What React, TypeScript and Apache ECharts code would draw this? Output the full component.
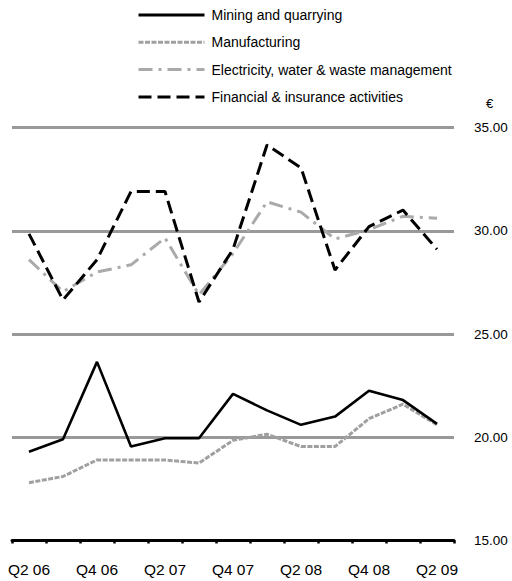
import React, { useEffect, useRef } from "react";
import * as echarts from "echarts";

const categories = ["Q2 06", "Q3 06", "Q4 06", "Q1 07", "Q2 07", "Q3 07", "Q4 07", "Q1 08", "Q2 08", "Q3 08", "Q4 08", "Q1 09", "Q2 09"];
const mining = [19.3, 19.9, 23.65, 19.55, 19.95, 19.95, 22.1, 21.3, 20.6, 21.0, 22.25, 21.8, 20.65];
const manufacturing = [17.8, 18.1, 18.9, 18.9, 18.9, 18.75, 19.85, 20.15, 19.55, 19.55, 20.9, 21.6, 20.6];
const electricity = [28.6, 27.05, 28.0, 28.35, 29.65, 26.9, 28.9, 31.4, 30.9, 29.6, 30.05, 30.7, 30.6];
const financial = [29.85, 26.65, 28.6, 31.9, 31.9, 26.55, 29.1, 34.15, 33.05, 28.1, 30.2, 31.0, 29.1];
const yTicks = { min: 15, max: 35, interval: 5 };

const FONT = "Liberation Sans, Arial, sans-serif";

export default function App() {
  const ref = useRef<HTMLDivElement>(null);
  useEffect(() => {
    if (!ref.current) return;
    const chart = echarts.init(ref.current, null, { renderer: "svg" });
    chart.setOption({
      animation: false,
      textStyle: { fontFamily: FONT },
      legend: {
        orient: "vertical",
        left: 137,
        top: 8,
        padding: 0,
        itemWidth: 66,
        itemHeight: 14,
        itemGap: 13.3,
        itemStyle: { opacity: 0 },
        lineStyle: { width: 3 },
        textStyle: { fontFamily: FONT, fontSize: 14, color: "#000", padding: [0, 0, 0, 2] },
        data: ["Mining and quarrying", "Manufacturing", "Electricity, water & waste management", "Financial & insurance activities"],
      },
      grid: { left: 12, right: 58, top: 127.5, bottom: 40.5, containLabel: false },
      xAxis: {
        type: "category",
        data: categories,
        boundaryGap: true,
        axisLine: { lineStyle: { color: "#000", width: 3 } },
        axisTick: { show: true, length: 3, lineStyle: { color: "#000", width: 2.5 }, interval: 0 },
        axisLabel: { interval: 1, color: "#000", fontSize: 15.5, fontFamily: FONT, margin: 21 },
        splitLine: { show: false },
      },
      yAxis: {
        type: "value",
        position: "right",
        min: yTicks.min,
        max: yTicks.max,
        interval: yTicks.interval,
        axisLine: { show: false },
        axisTick: { show: false },
        axisLabel: {
          color: "#000",
          fontSize: 13.5,
          fontFamily: FONT,
          margin: 20,
          formatter: (v: number) => v.toFixed(2),
        },
        splitLine: { show: true, lineStyle: { color: "#999", width: 3 } },
      },
      graphic: [
        { type: "text", left: 486, top: 97, style: { text: "€", fontSize: 13, fontFamily: FONT, fill: "#000" } },
      ],
      series: [
        {
          name: "Mining and quarrying",
          type: "line",
          data: mining,
          symbol: "none",
          lineStyle: { color: "#000", width: 2.6, type: "solid" },
          itemStyle: { color: "#000" },
          z: 4,
        },
        {
          name: "Manufacturing",
          type: "line",
          data: manufacturing,
          symbol: "none",
          lineStyle: { color: "#a0a0a0", width: 3, type: [5, 1.5] },
          itemStyle: { color: "#a0a0a0" },
          z: 3,
        },
        {
          name: "Electricity, water & waste management",
          type: "line",
          data: electricity,
          symbol: "none",
          lineStyle: { color: "#aaaaaa", width: 3, type: [14, 6, 3, 6] },
          itemStyle: { color: "#aaaaaa" },
          z: 3,
        },
        {
          name: "Financial & insurance activities",
          type: "line",
          data: financial,
          symbol: "none",
          lineStyle: { color: "#000", width: 3, type: [13, 6] },
          itemStyle: { color: "#000" },
          z: 4,
        },
      ],
    });
    return () => chart.dispose();
  }, []);
  return <div ref={ref} style={{ width: 512, height: 581, position: "absolute", left: 0, top: 0 }} />;
}
